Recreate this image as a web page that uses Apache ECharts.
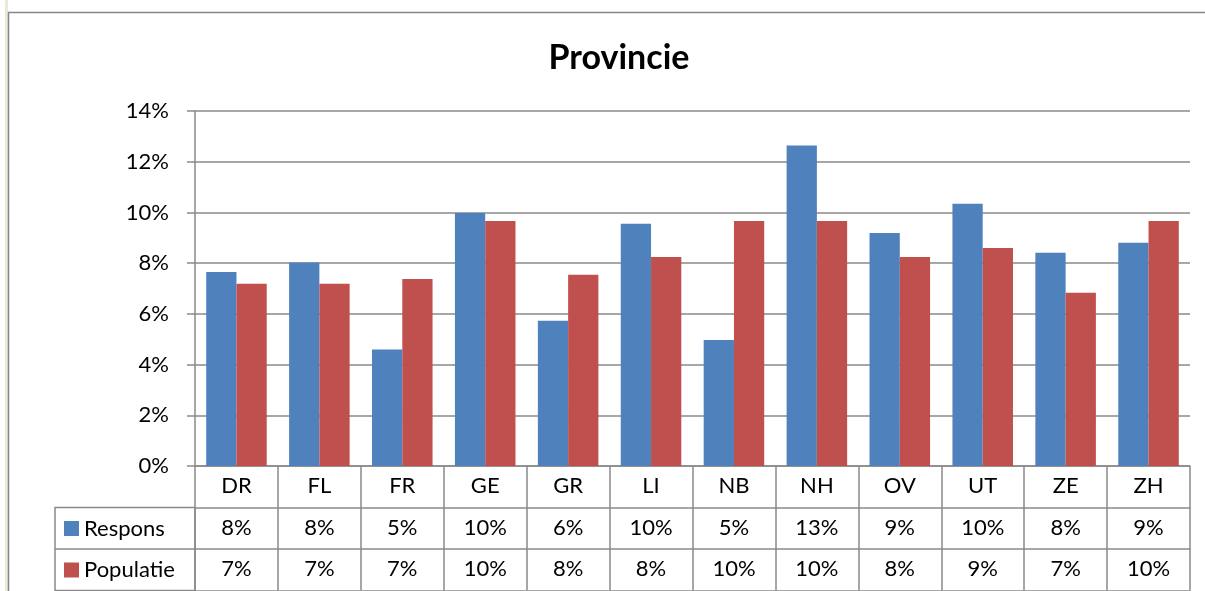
<!DOCTYPE html>
<html>
<head>
<meta charset="utf-8">
<script src="https://cdn.jsdelivr.net/npm/echarts@6/dist/echarts.min.js"></script>
<style>
  html, body { margin: 0; padding: 0; background: #fff; }
  #chart { width: 1205px; height: 591px; }
</style>
</head>
<body>
<div id="chart"></div>
<script>
// data
const categories = ['DR', 'FL', 'FR', 'GE', 'GR', 'LI', 'NB', 'NH', 'OV', 'UT', 'ZE', 'ZH'];
const respons = [7.65, 8.03, 4.59, 9.98, 5.73, 9.55, 4.97, 12.64, 9.19, 10.34, 8.41, 8.8];
const populatie = [7.19, 7.19, 7.37, 9.66, 7.54, 8.24, 9.66, 9.66, 8.24, 8.6, 6.83, 9.66];
const yTicks = [0, 2, 4, 6, 8, 10, 12, 14];

// layout
const FONT = 'Lato, "Open Sans", sans-serif';
const LINE = '#8a8a8a';
const gridLeft = 195, gridRight = 15, gridTop = 111, gridBottom = 125;
const rowH = 41.5;
const tableLeft = 55;
const H = 591, W = 1205;
const plotBottom = H - gridBottom;

const chart = echarts.init(document.getElementById('chart'));

const pct = v => Math.round(v) + '%';

// extra x-axes that only serve as table rows
function tableRow(offset, values, showLabel) {
    return {
        type: 'category',
        position: 'bottom',
        offset: offset,
        data: categories,
        axisLine: { show: true, lineStyle: { color: LINE, width: 1.5 } },
        axisTick: { show: false },
        axisLabel: {
            show: showLabel,
            formatter: (v, i) => values ? pct(values[i]) : '',
            fontFamily: FONT, fontSize: 22, color: '#000', margin: 9
        },
        splitLine: { show: false }
    };
}

const option = {
    backgroundColor: '#fff',
    animation: false,
    title: {
        text: 'Provincie',
        left: 614,
        textAlign: 'center',
        top: 36,
        textStyle: { fontFamily: FONT, fontSize: 34, fontWeight: 'bold', color: '#000' }
    },
    legend: {
        orient: 'vertical',
        left: tableLeft + 9,
        top: plotBottom + rowH + 10,
        padding: 0,
        itemGap: 19.5,
        itemWidth: 15,
        itemHeight: 15,
        icon: 'rect',
        textStyle: { fontFamily: FONT, fontSize: 22, color: '#000', padding: [0, 0, 0, 0] },
        data: ['Respons', 'Populatie']
    },
    grid: { left: gridLeft, right: gridRight, top: gridTop, bottom: gridBottom },
    xAxis: [
        {
            type: 'category',
            position: 'bottom',
            data: categories,
            axisLine: { show: true, lineStyle: { color: LINE, width: 1.5 } },
            axisTick: { show: true, inside: false, length: rowH * 3, lineStyle: { color: LINE, width: 1.5 } },
            axisLabel: { fontFamily: FONT, fontSize: 22, color: '#000', margin: 9 }
        },
        tableRow(rowH, respons, true),
        tableRow(rowH * 2, populatie, true),
        tableRow(rowH * 3, null, false)
    ],
    yAxis: {
        type: 'value',
        min: 0,
        max: 14,
        interval: 2,
        axisLine: { show: true, lineStyle: { color: LINE, width: 1.5 } },
        axisTick: { show: true, length: 8, lineStyle: { color: LINE, width: 1.5 } },
        axisLabel: {
            formatter: v => yTicks.includes(v) ? v + '%' : '',
            fontFamily: FONT, fontSize: 22, color: '#000', margin: 26
        },
        splitLine: { show: true, lineStyle: { color: LINE, width: 1.5 } }
    },
    series: [
        {
            name: 'Respons',
            type: 'bar',
            data: respons,
            barGap: '0%',
            barCategoryGap: '27%',
            itemStyle: { color: '#4F81BD' }
        },
        {
            name: 'Populatie',
            type: 'bar',
            data: populatie,
            itemStyle: { color: '#C0504D' }
        }
    ],
    graphic: [
        // outer chart frame
        { type: 'rect', shape: { x: 5, y: 0, width: 3, height: H }, style: { fill: '#ece9d8' }, silent: true },
        { type: 'rect', shape: { x: 8.5, y: 12.5, width: W + 20, height: H + 20 },
          style: { fill: null, stroke: '#868686', lineWidth: 1.5 }, silent: true },
        // legend cell of the data table
        { type: 'rect', shape: { x: tableLeft, y: plotBottom + rowH, width: gridLeft - tableLeft, height: rowH * 2 },
          style: { fill: null, stroke: LINE, lineWidth: 1.5 }, silent: true },
        { type: 'line', shape: { x1: tableLeft, y1: plotBottom + rowH * 2, x2: gridLeft, y2: plotBottom + rowH * 2 },
          style: { stroke: LINE, lineWidth: 1.5 }, silent: true }
    ]
};

chart.setOption(option);
</script>
</body>
</html>
